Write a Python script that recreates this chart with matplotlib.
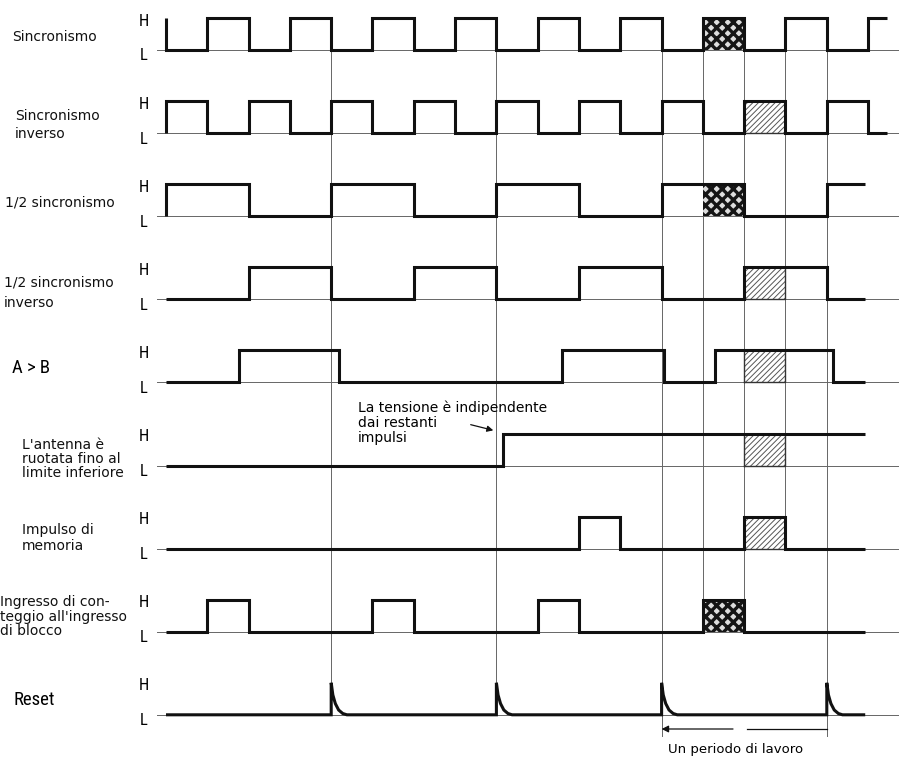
import matplotlib.pyplot as plt
from matplotlib.patches import Rectangle

# time axis in half clock periods, level 1 = H, 0 = L
sync_times = [0, 0, 1, 2, 3, 4, 5, 6, 7, 8, 9, 10, 11, 12, 13, 14, 15, 16, 17]
sync_levels = [1, 0, 1, 0, 1, 0, 1, 0, 1, 0, 1, 0, 1, 0, 1, 0, 1, 0, 1]
inv_times = [0, 0, 1, 2, 3, 4, 5, 6, 7, 8, 9, 10, 11, 12, 13, 14, 15, 16, 17]
inv_levels = [0, 1, 0, 1, 0, 1, 0, 1, 0, 1, 0, 1, 0, 1, 0, 1, 0, 1, 0]
half_times = [0, 0, 2, 4, 6, 8, 10, 12, 14, 16]
half_levels = [0, 1, 0, 1, 0, 1, 0, 1, 0, 1]
halfinv_times = [0, 2, 4, 6, 8, 10, 12, 14, 16]
halfinv_levels = [0, 1, 0, 1, 0, 1, 0, 1, 0]
ab_times = [0, 1.77, 4.2, 9.6, 12.05, 13.3, 16.15]
ab_levels = [0, 1, 0, 1, 0, 1, 0]
ant_times = [0, 8.15]
ant_levels = [0, 1]
mem_times = [0, 10, 11, 14, 15]
mem_levels = [0, 1, 0, 1, 0]
cnt_times = [0, 1, 2, 5, 6, 9, 10, 13, 14]
cnt_levels = [0, 1, 0, 1, 0, 1, 0, 1, 0]
reset_spikes = [4, 8, 12, 16]

signals = [(sync_times, sync_levels, 17.45), (inv_times, inv_levels, 17.45),
           (half_times, half_levels, 16.93), (halfinv_times, halfinv_levels, 16.93),
           (ab_times, ab_levels, 16.93), (ant_times, ant_levels, 16.93),
           (mem_times, mem_levels, 16.93), (cnt_times, cnt_levels, 16.93)]

row_labels = [["Sincronismo"], ["Sincronismo", "inverso"], ["1/2 sincronismo"],
              ["1/2 sincronismo", "inverso"], ["A > B"],
              ["L'antenna è", "ruotata fino al", "limite inferiore"],
              ["Impulso di", "memoria"],
              ["Ingresso di con-", "teggio all'ingresso", "di blocco"], ["Reset"]]

# shaded slots: (row, start, end)
dotted_slots = [(0, 13, 14), (2, 13, 14), (7, 13, 14)]
hatched_slots = [(1, 14, 15), (3, 14, 15), (4, 14, 15), (5, 14, 15), (6, 14, 15)]

# vertical reference lines: time, lowest pixel row
grid_times = [4, 8, 12, 13, 14, 15, 16]
grid_bottom = [715, 715, 736, 598, 630, 548, 736]

# layout (pixels)
X0, DX = 166, 41.3
base = [50 + 83.1 * i for i in range(9)]
AMP = 32
lab_x = [12, 15, 5, 4, 12, 22, 22, 0, 13]
lab_y = [[37], [116, 134], [203], [283, 303], [368], [445, 459, 473],
         [530, 546], [602, 617, 631], [700]]


def tx(px):
    return (px - X0) / DX


fig = plt.figure(figsize=(8.99, 7.58), dpi=100)
ax = fig.add_axes([0, 0, 1, 1])
ax.set_xlim(tx(0), tx(899))
ax.set_ylim(758, 0)
ax.axis('off')

thick = dict(color='#111111', lw=2.2, solid_joinstyle='miter', solid_capstyle='butt', zorder=4)
thin = dict(color='#666666', lw=0.7, zorder=1)
narrow = dict(family=['Roboto Condensed', 'Liberation Sans Narrow', 'DejaVu Sans'],
              fontstretch='condensed')

for t, b in zip(grid_times, grid_bottom):
    ax.plot([t, t], [base[0], b], **thin)

for i, L in enumerate(base):
    ax.plot([tx(157), tx(899)], [L, L], **thin)
    ax.text(tx(144), L - AMP + 3, 'H', fontsize=12, ha='center', va='center', **narrow)
    ax.text(tx(144), L + 6, 'L', fontsize=12, ha='center', va='center', **narrow)
    for line, y in zip(row_labels[i], lab_y[i]):
        if i in (4, 8):
            ax.text(tx(lab_x[i]), y, line, fontsize=13.5, va='center', **narrow)
        else:
            ax.text(tx(lab_x[i]), y, line, fontsize=10, va='center', color='#111111')

plt.rcParams['hatch.linewidth'] = 2.4
for r, t0, t1 in dotted_slots:
    ax.add_patch(Rectangle((t0, base[r]), t1 - t0, -AMP, facecolor='#dddddd',
                           edgecolor='#151515', hatch='xxx', lw=0, zorder=2))
plt.rcParams['hatch.linewidth'] = 0.7
for r, t0, t1 in hatched_slots:
    ax.add_patch(Rectangle((t0, base[r]), t1 - t0, -AMP, facecolor='white',
                           edgecolor='#555555', hatch='//////', lw=0, zorder=2))
    ax.plot([t0, t0, t1, t1, t0], [base[r], base[r] - AMP, base[r] - AMP, base[r], base[r]],
            color='#333333', lw=1.0, zorder=3)

for i, (times, levels, end) in enumerate(signals):
    xs, ys = [], []
    for k, (t, v) in enumerate(zip(times, levels)):
        y = base[i] - v * AMP
        nxt = times[k + 1] if k + 1 < len(times) else end
        xs += [t, nxt]
        ys += [y, y]
    ax.plot(xs, ys, **thick)

# reset pulses with decaying tail
decay_dt = [0, 0.04, 0.1, 0.18, 0.28, 0.38]
decay_f = [1, 0.62, 0.35, 0.15, 0.04, 0]
L9 = base[8]
xs, ys = [0], [L9]
for s in reset_spikes:
    xs += [s]
    ys += [L9]
    xs += [s + d for d in decay_dt]
    ys += [L9 - f * AMP for f in decay_f]
xs.append(16.93)
ys.append(L9)
ax.plot(xs, ys, **thick)

# annotation
ax.text(tx(358), 408, 'La tensione è indipendente', fontsize=10, va='center')
ax.text(tx(358), 423, 'dai restanti', fontsize=10, va='center')
ax.text(tx(358), 438, 'impulsi', fontsize=10, va='center')
ax.annotate('', xy=(tx(496), 431), xytext=(tx(468), 424),
            arrowprops=dict(arrowstyle='-|>', color='#111111', lw=0.9, mutation_scale=9))

# working period
ax.annotate('', xy=(12, 729), xytext=(tx(733), 729),
            arrowprops=dict(arrowstyle='-|>', color='#111111', lw=0.9, mutation_scale=10,
                            shrinkA=0, shrinkB=0))
ax.plot([tx(747), 16], [729, 729], color='#111111', lw=0.9)
ax.text(tx(736), 750, 'Un periodo di lavoro', fontsize=9.5, ha='center', va='center')

fig.savefig('out.png', dpi=100)
